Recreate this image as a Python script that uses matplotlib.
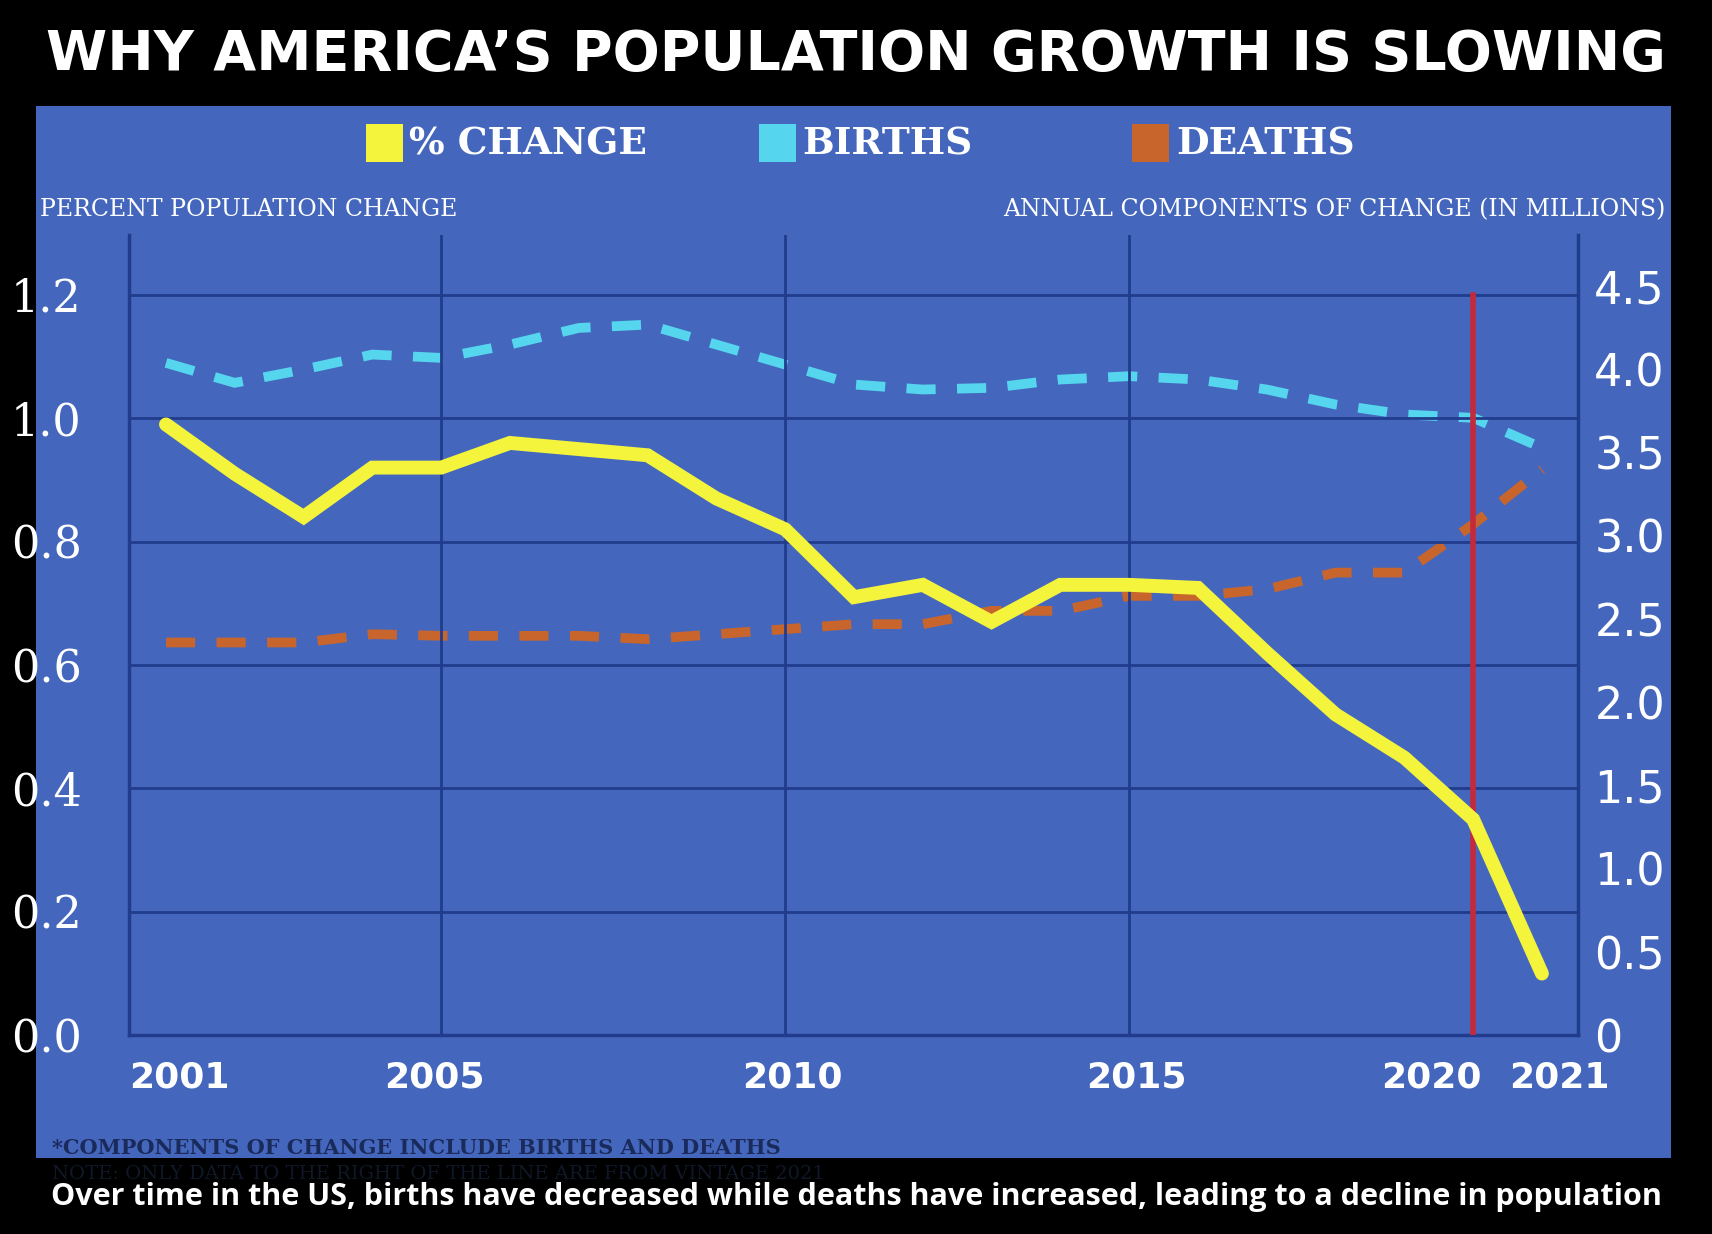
import matplotlib
matplotlib.use("Agg")
import matplotlib.pyplot as plt
from matplotlib.patches import Rectangle

# data
years = list(range(2001, 2022))
pct_change = [0.99, 0.91, 0.84, 0.92, 0.92, 0.96, 0.95, 0.94, 0.87, 0.82, 0.71,
              0.73, 0.67, 0.73, 0.73, 0.725, 0.62, 0.52, 0.45, 0.35, 0.10]
births = [4.04, 3.92, 4.00, 4.09, 4.07, 4.15, 4.25, 4.27, 4.15, 4.03, 3.91,
          3.88, 3.89, 3.94, 3.96, 3.94, 3.88, 3.79, 3.73, 3.71, 3.53]
deaths = [2.36, 2.36, 2.36, 2.41, 2.40, 2.40, 2.40, 2.38, 2.41, 2.44, 2.47,
          2.47, 2.55, 2.55, 2.64, 2.64, 2.68, 2.78, 2.78, 3.07, 3.40]
left_ticks = [0.0, 0.2, 0.4, 0.6, 0.8, 1.0, 1.2]
right_ticks = [0, 0.5, 1.0, 1.5, 2.0, 2.5, 3.0, 3.5, 4.0, 4.5]
xtick_labels = ["2001", "2005", "2010", "2015", "2020", "2021"]
xtick_pos = [2001.2, 2004.9, 2010.1, 2015.1, 2019.4, 2021.25]  # label spots as drawn

W, H = 1568, 1130  # reference pixel frame
BLUE = "#4467bd"
GRID = "#213c8c"
YEL = "#f4f43c"
CYAN = "#55d6ee"
ORANGE = "#c8652c"

fig = plt.figure(figsize=(17.12, 12.34), dpi=100, facecolor="black")

def fx(x): return x / W
def fy(y): return 1 - y / H

fig.patches.append(Rectangle((fx(33), fy(1060)), fx(1530) - fx(33), fy(97) - fy(1060),
                             transform=fig.transFigure, facecolor=BLUE, zorder=-5))

fig.text(0.5, fy(50), "WHY AMERICA\u2019S POPULATION GROWTH IS SLOWING", color="white",
         fontsize=40, fontweight="heavy", ha="center", va="center", family="DejaVu Sans")

# legend
for x0, col, lab in [(335, YEL, "% CHANGE"), (695, CYAN, "BIRTHS"), (1037, ORANGE, "DEATHS")]:
    fig.patches.append(Rectangle((fx(x0), fy(148)), fx(34), fy(114) - fy(148),
                                 transform=fig.transFigure, facecolor=col, zorder=1))
    fig.text(fx(x0 + 40), fy(132), lab, color="white", fontsize=27, fontweight="bold",
             family="DejaVu Serif", va="center")

fig.text(fx(37), fy(192), "PERCENT POPULATION CHANGE", color="white", fontsize=17,
         family="DejaVu Serif", va="center")
fig.text(fx(1525), fy(192), "ANNUAL COMPONENTS OF CHANGE (IN MILLIONS)", color="white",
         fontsize=17, family="DejaVu Serif", va="center", ha="right")

rect = [fx(118), fy(948), fx(1445) - fx(118), fy(215) - fy(948)]
ax = fig.add_axes(rect, zorder=2)
ax.patch.set_visible(False)
ax.set_xlim(2000.46, 2021.52)
ax.set_ylim(0, (948 - 215) / 565)
for v in left_ticks[1:]:
    ax.axhline(v, color=GRID, lw=2, zorder=1)
for yr in [2005, 2010, 2015]:
    ax.axvline(yr, color=GRID, lw=2, zorder=1)
for s in ["top", "right"]:
    ax.spines[s].set_visible(False)
for s in ["left", "bottom"]:
    ax.spines[s].set_color(GRID)
    ax.spines[s].set_linewidth(2.5)
ax.set_yticks(left_ticks)
ax.set_yticklabels([f"{v:.1f}" for v in left_ticks])
ax.set_xticks(xtick_pos)
ax.set_xticklabels(xtick_labels)
ax.tick_params(length=0, colors="white", labelsize=32, pad=18)
for lab in ax.get_yticklabels():
    lab.set_family("DejaVu Serif")
    lab.set_horizontalalignment("left")
    lab.set_x(fx(33 - 118) / (fx(1445) - fx(118)))
for lab in ax.get_xticklabels():
    lab.set_family("DejaVu Sans")
    lab.set_fontweight("bold")
    lab.set_fontsize(26)

ax2 = fig.add_axes(rect, zorder=1, sharex=ax)
ax2.patch.set_visible(False)
ax2.set_ylim(0, (948 - 215) / 152.4)
for s in ["top", "left", "bottom"]:
    ax2.spines[s].set_visible(False)
ax2.spines["right"].set_color(GRID)
ax2.spines["right"].set_linewidth(2.5)
ax2.yaxis.tick_right()
ax2.xaxis.set_visible(False)
ax2.set_yticks(right_ticks)
ax2.set_yticklabels(["0"] + [f"{v:.1f}" for v in right_ticks[1:]])
ax2.tick_params(length=0, colors="white", labelsize=32, pad=12)

ax2.plot(years, births, color=CYAN, lw=7, dashes=(3, 2.2), zorder=3)
ax2.plot(years, deaths, color=ORANGE, lw=7, dashes=(3, 2.2), zorder=3)
ax.axvline(2020, ymax=(948 - 270) / (948 - 215), color="#c42a3c", lw=4, zorder=4)
ax.plot(years, pct_change, color=YEL, lw=10, solid_capstyle="round", solid_joinstyle="miter",
        zorder=5)

fig.text(fx(48), fy(1051), "*COMPONENTS OF CHANGE INCLUDE BIRTHS AND DEATHS", color="#1a2a5a",
         fontsize=15, fontweight="bold", family="DejaVu Serif", va="center")
fig.text(fx(48), fy(1075), "NOTE: ONLY DATA TO THE RIGHT OF THE LINE ARE FROM VINTAGE 2021",
         color="#3b5590", fontsize=14, family="DejaVu Serif", va="center")
fig.patches.append(Rectangle((0, 0), 1, fy(1060), transform=fig.transFigure,
                             facecolor="black", alpha=0.72, zorder=5))
fig.text(0.5, fy(1096), "Over time in the US, births have decreased while deaths have increased, leading to a decline in population",
         color="white", fontsize=22, fontweight="bold", ha="center", va="center",
         family="Open Sans", zorder=6)

fig.savefig("out.png", dpi=100, facecolor="black")
